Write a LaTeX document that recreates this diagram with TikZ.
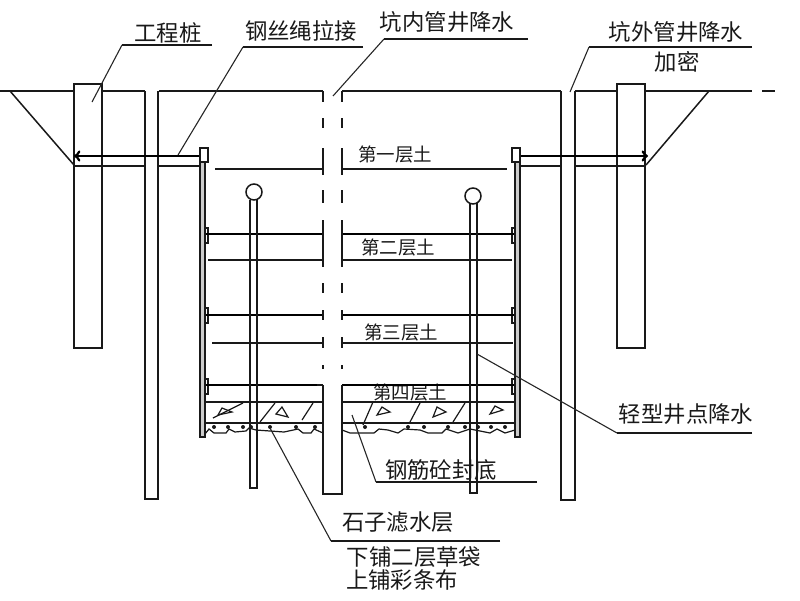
\documentclass[tikz,border=0pt]{standalone}
\usepackage{fontspec}
\setmainfont{Noto Sans CJK SC}
\usepackage{tikz}

\begin{document}
\begin{tikzpicture}[
    x=1pt, y=-1pt,
    thinline/.style={draw=black!90, line width=1.5pt},
    cable/.style={draw=black, line width=2.8pt},
    leader/.style={draw=black!85, line width=1.1pt},
    underline/.style={draw=black!90, line width=1.5pt},
    biglabel/.style={inner sep=0pt, text=black!90, font=\fontsize{22.4}{24}\selectfont},
    soillabel/.style={inner sep=0pt, text=black!90, font=\fontsize{18.5}{20}\selectfont},
    plate/.style={draw=black!90, line width=1.2pt, fill=white},
    wall/.style={draw=black!90, line width=1.4pt, fill=black!20},
    gravel/.style={draw=black!90, line width=1.2pt},
]
\useasboundingbox (0,0) rectangle (800,600);

% labels
\node[biglabel] (lblpile) at (168,33) {工程桩};
\node[biglabel] (lblrope) at (301,31) {钢丝绳拉接};
\node[biglabel] (lblinner) at (447,22) {坑内管井降水};
\node[biglabel] (lblouter) at (676,32) {坑外管井降水};
\node[biglabel] (lblouterb) at (677,62) {加密};
\node[biglabel] (lblpoint) at (686,414) {轻型井点降水};
\node[biglabel] (lblslab) at (441,470) {钢筋砼封底};
\node[biglabel] (lblstone) at (398,522) {石子滤水层};
\node[biglabel] (lbllower) at (414,557) {下铺二层草袋};
\node[biglabel] (lblupper) at (402,580) {上铺彩条布};
\node[soillabel] (soila) at (395,155) {第一层土};
\node[soillabel] (soilb) at (398,248) {第二层土};
\node[soillabel] (soilc) at (401,332) {第三层土};
\node[soillabel] (soild) at (410,392) {第四层土};

% ground line and slopes
\draw[thinline] (0,91) -- (74,91);
\draw[thinline] (102,91) -- (145,91);
\draw[thinline] (159,91) -- (323,91);
\draw[thinline] (342,91) -- (561,91);
\draw[thinline] (575,91) -- (617,91);
\draw[thinline] (645,91) -- (752,91);
\draw[thinline] (762,91) -- (775,91);
\draw[thinline] (10,91) -- (74,165);
\draw[thinline] (709,91) -- (646,165);

% piles and outer wells
\draw[thinline] (74,84) rectangle (102,348);
\draw[thinline] (617,84) rectangle (645,348);
\draw[thinline] (145,91) -- (145,499) -- (158,499) -- (158,91);
\draw[thinline] (561,91) -- (561,500) -- (575,500) -- (575,91);

% ties behind the walls
\draw[thinline] (74,166) -- (145,166);
\draw[thinline] (158,166) -- (200,166);
\draw[thinline] (520,166) -- (561,166);
\draw[thinline] (575,166) -- (646,166);
\draw[cable, ->] (200,156) -- (74,156);
\draw[cable, ->] (520,156) -- (648,156);

% retaining walls
\draw[wall] (200,148) rectangle (205,437);
\draw[wall] (515,148) rectangle (520,437);
\draw[plate] (200,148) rectangle (208,162);
\draw[plate] (512,148) rectangle (520,162);
\foreach \y in {228,308,379} {
    \draw[plate] (205,\y) rectangle (208,\y+15);
    \draw[plate] (512,\y) rectangle (515,\y+15);
}

% soil layers, left and right of the middle well
\draw[thinline] (215,169) -- (323,169);
\draw[thinline] (342,169) -- (507,169);
\draw[cable] (206,234) -- (323,234);
\draw[cable] (342,234) -- (514,234);
\draw[thinline] (208,260) -- (323,260);
\draw[thinline] (342,260) -- (512,260);
\draw[cable] (206,315) -- (323,315);
\draw[cable] (342,315) -- (514,315);
\draw[thinline] (212,343) -- (323,343);
\draw[thinline] (342,343) -- (513,343);
\draw[cable] (206,385) -- (317,385);
\draw[thinline] (317,385) -- (323,385);
\draw[cable] (342,385) -- (514,385);
\draw[thinline] (205,402) -- (323,402);
\draw[thinline] (342,402) -- (515,402);
\draw[thinline] (205,423) -- (323,423);
\draw[thinline] (342,423) -- (515,423);

% middle well
\foreach \x in {323,342} {
    \foreach \a/\b in {91/102,118/128,148/175,190/203,220/267,283/293,310/320,337/348,365/369} {
        \draw[thinline] (\x,\a) -- (\x,\b);
    }
}
\draw[thinline] (323,385) -- (323,494) -- (342,494) -- (342,385);

% well points
\draw[thinline] (250,200) -- (250,488) -- (257,488) -- (257,200);
\draw[thinline] (470,203) -- (470,493) -- (477,493) -- (477,203);
\draw[thinline, fill=white] (254,192) circle (8);
\draw[thinline, fill=white] (473,196) circle (8);

% concrete slab
\foreach \a/\b/\c/\d in {213/418/243/403,260/422/275/403,302/420/313/403,363/425/373/402,410/422/420/403,453/422/465/403} {
    \draw[gravel] (\a,\b) -- (\c,\d);
}
\foreach \a/\b/\c/\d/\e/\f in {222/408/232/412/218/415,276/414/282/407/288/417,377/415/382/407/390/412,433/417/437/407/446/412,490/414/495/406/503/410} {
    \draw[gravel] (\a,\b) -- (\c,\d) -- (\e,\f) -- cycle;
}

% gravel layer
\foreach \x in {214,228,243,251,270,296,315,365,408,424,448,465,478,491,505} {
    \fill[black!90] (\x,427) circle (2);
}
\draw[gravel] (205,434) -- (209,429) -- (214,433) -- (226,433) -- (229,429) -- (235,432) -- (246,431) -- (249,428) -- (256,430) -- (284,432) -- (298,429) -- (303,433) -- (311,433) -- (314,429) -- (323,433);
\draw[gravel] (342,430) -- (350,433) -- (374,433) -- (379,429) -- (388,430) -- (398,433) -- (404,429) -- (420,430) -- (428,433) -- (442,433) -- (446,429) -- (458,433) -- (470,429) -- (490,433) -- (497,429) -- (505,433) -- (515,430);

% leader lines
\coordinate (pilea) at (212,45);
\coordinate (pileb) at (122,45);
\coordinate (pilec) at (92,102);
\coordinate (ropea) at (363,47);
\coordinate (ropeb) at (243,47);
\coordinate (ropec) at (178,155);
\coordinate (innera) at (528,39);
\coordinate (innerb) at (384,39);
\coordinate (innerc) at (333,96);
\coordinate (outera) at (752,47);
\coordinate (outerb) at (589,47);
\coordinate (outerc) at (570,92);
\coordinate (pointa) at (752,433);
\coordinate (pointb) at (617,433);
\coordinate (pointc) at (477,354);
\coordinate (slaba) at (537,482);
\coordinate (slabb) at (376,482);
\coordinate (slabc) at (352,415);
\coordinate (stonea) at (500,541);
\coordinate (stoneb) at (331,541);
\coordinate (stonec) at (270,428);

\draw[underline] (pilea) -- (pileb);
\draw[leader] (pileb) -- (pilec);
\draw[underline] (ropea) -- (ropeb);
\draw[leader] (ropeb) -- (ropec);
\draw[underline] (innera) -- (innerb);
\draw[leader] (innerb) -- (innerc);
\draw[underline] (outera) -- (outerb);
\draw[leader] (outerb) -- (outerc);
\draw[underline] (pointa) -- (pointb);
\draw[leader] (pointb) -- (pointc);
\draw[underline] (slaba) -- (slabb);
\draw[leader] (slabb) -- (slabc);
\draw[underline] (stonea) -- (stoneb);
\draw[leader] (stoneb) -- (stonec);
\end{tikzpicture}
\end{document}
